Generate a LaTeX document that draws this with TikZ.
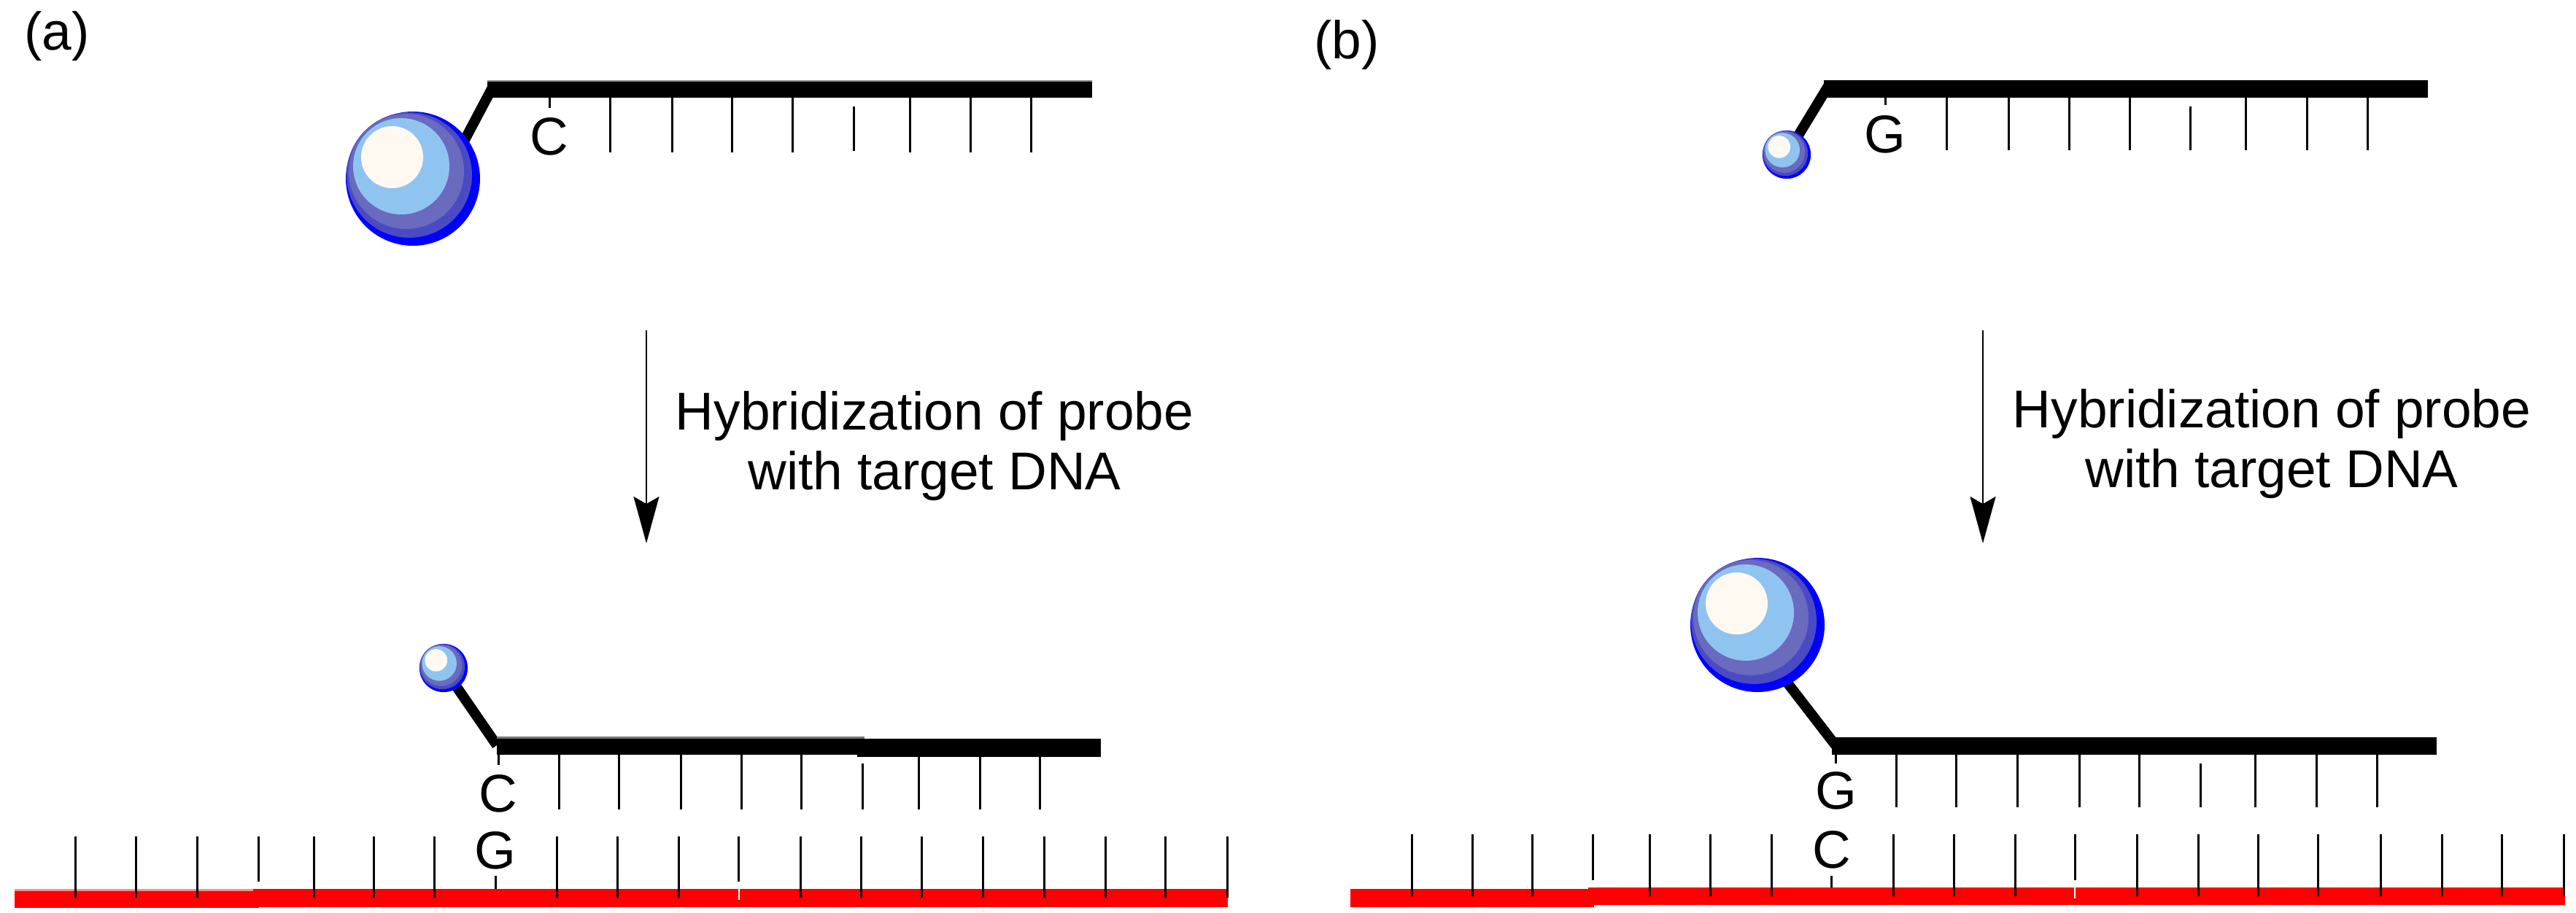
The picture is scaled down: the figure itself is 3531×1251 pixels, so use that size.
\documentclass[tikz,border=0pt]{standalone}
\usepackage{fontspec}
\setmainfont{Liberation Sans}
\usetikzlibrary{arrows.meta}
\definecolor{beadblue}{HTML}{0000FF}
\definecolor{beaddark}{HTML}{4A4AC4}
\definecolor{beadmid}{HTML}{6A6ABE}
\definecolor{beadlight}{HTML}{90C4F0}
\definecolor{beadwhite}{HTML}{FFF9F2}
\tikzset{
  lab/.style={font=\fontsize{73}{82}\selectfont,text=black,inner sep=0pt,outer sep=0pt,anchor=base},
  caption/.style={lab,align=center,anchor=center},
  tick/.style={draw=black,line width=3pt},
  link/.style={draw=black,line width=14pt},
  bar/.style={fill=black},
  rule/.style={fill=red},
  flow/.style={draw=black,line width=2.6pt,-{Stealth[length=64pt,width=35pt,inset=10pt]}},
  pics/bead/.style={code={
    \fill[beadblue] (0,0) circle [radius=92];
    \fill[beaddark] (-5,-5) circle [radius=86];
    \fill[beadmid] (-9,-10) circle [radius=79];
    \fill[beadlight] (-16,-17) circle [radius=66];
    \fill[beadwhite] (-28.5,-29.5) circle [radius=42.5];
  }}
}
\begin{document}
\begin{tikzpicture}[x=1pt,y=-1pt]
\useasboundingbox[fill=white] (0,0) rectangle (3531,1251);
% ---------- panel labels
\node[lab] (pa) at (78,68) {(a)};
\node[lab] (pb) at (1846,80) {(b)};
% ---------- (a) top
\coordinate (s1) at (566,245);
\coordinate (s1l) at (630,205);
\coordinate (b1) at (675,120);
\draw[link] (b1) -- (s1l);
\fill[black!45] (668,109.5) rectangle (1497,113);
\fill[bar] (668,112) rectangle (1497,134);
\pic[scale=1] at (s1) {bead};
\draw[tick] (753,134) -- (753,148);
\foreach \x in {836,921,1003,1086,1247,1330,1413} \draw[tick] (\x,134) -- (\x,209);
\draw[tick] (1170,146) -- (1170,207);
\node[lab] (c1) at (753,212) {C};
% ---------- (b) top
\coordinate (s2) at (2449,212);
\coordinate (b2) at (2506,118);
\draw[link] (b2) -- (s2);
\fill[bar] (2500,110) rectangle (3328,134);
\pic[scale=.36] at (s2) {bead};
\draw[tick] (2584,134) -- (2584,144);
\foreach \x in {2668,2753,2836,2919,3078,3162,3245} \draw[tick] (\x,134) -- (\x,206);
\draw[tick] (3002,146) -- (3002,206);
\node[lab] (g2) at (2584,209) {G};
% ---------- arrows and captions
\coordinate (ar1) at (886,453);
\coordinate (ar1e) at (886,745);
\draw[flow] (ar1) -- (ar1e);
\node[caption] (t1) at (1281,612) {Hybridization of probe\\with target DNA};
\coordinate (ar2) at (2718,453);
\coordinate (ar2e) at (2718,745);
\draw[flow] (ar2) -- (ar2e);
\node[caption] (t2) at (3114,609) {Hybridization of probe\\with target DNA};
% ---------- (a) bottom
\coordinate (s3) at (608,916);
\coordinate (b3) at (681,1022);
\draw[link] (b3) -- (s3);
\fill[black!55] (681,1010) rectangle (1185,1013);
\fill[bar] (681,1013) rectangle (1185,1035);
\fill[bar] (1175,1013) rectangle (1509,1038);
\pic[scale=.36] at (s3) {bead};
\draw[tick] (683,1035) -- (683,1049);
\foreach \x in {766,848,933,1016,1098,1259,1343,1425} \draw[tick] (\x,1035) -- (\x,1110);
\draw[tick] (1182,1047) -- (1182,1110);
\node[lab] (c3) at (683,1113) {C};
\fill[red!45] (20,1219) rectangle (347,1223);
\fill[rule] (20,1222) rectangle (355,1245);
\fill[rule] (347,1219) rectangle (1683,1243.5);
\draw[white,line width=2pt] (1013,1219) -- (1013,1234);
\foreach \x in {103,186,270,430,512,595,763,846,930,1097,1180,1263,1347,1431,1515,1597,1682} \draw[tick] (\x,1147) -- (\x,1231);
\foreach \x in {354,1012} \draw[tick] (\x,1147) -- (\x,1209);
\draw[tick] (679,1201) -- (679,1219);
\node[lab] (g3) at (679,1191) {G};
% ---------- (b) bottom
\coordinate (s4) at (2409,857);
\coordinate (s4l) at (2445,930);
\coordinate (b4) at (2516,1022);
\draw[link] (b4) -- (s4l);
\fill[bar] (2511,1011) rectangle (3340,1035);
\pic[scale=1] at (s4) {bead};
\draw[tick] (2516,1035) -- (2516,1047);
\foreach \x in {2599,2681,2765,2850,2932,3091,3175,3258} \draw[tick] (\x,1035) -- (\x,1107);
\draw[tick] (3016,1047) -- (3016,1107);
\node[lab] (g4) at (2517,1109) {G};
\fill[rule] (1851,1219) rectangle (2185,1243.5);
\fill[rule] (2177,1217) rectangle (3516,1240.5);
\draw[white,line width=2pt] (2844,1217) -- (2844,1232);
\foreach \x in {1935,2018,2100,2261,2344,2428,2595,2678,2762,2929,3013,3095,3177,3263,3347,3429,3514} \draw[tick] (\x,1144) -- (\x,1229);
\foreach \x in {2183,2844} \draw[tick] (\x,1144) -- (\x,1207);
\draw[tick] (2510,1201) -- (2510,1217);
\node[lab] (c4) at (2511,1190) {C};
\end{tikzpicture}
\end{document}
